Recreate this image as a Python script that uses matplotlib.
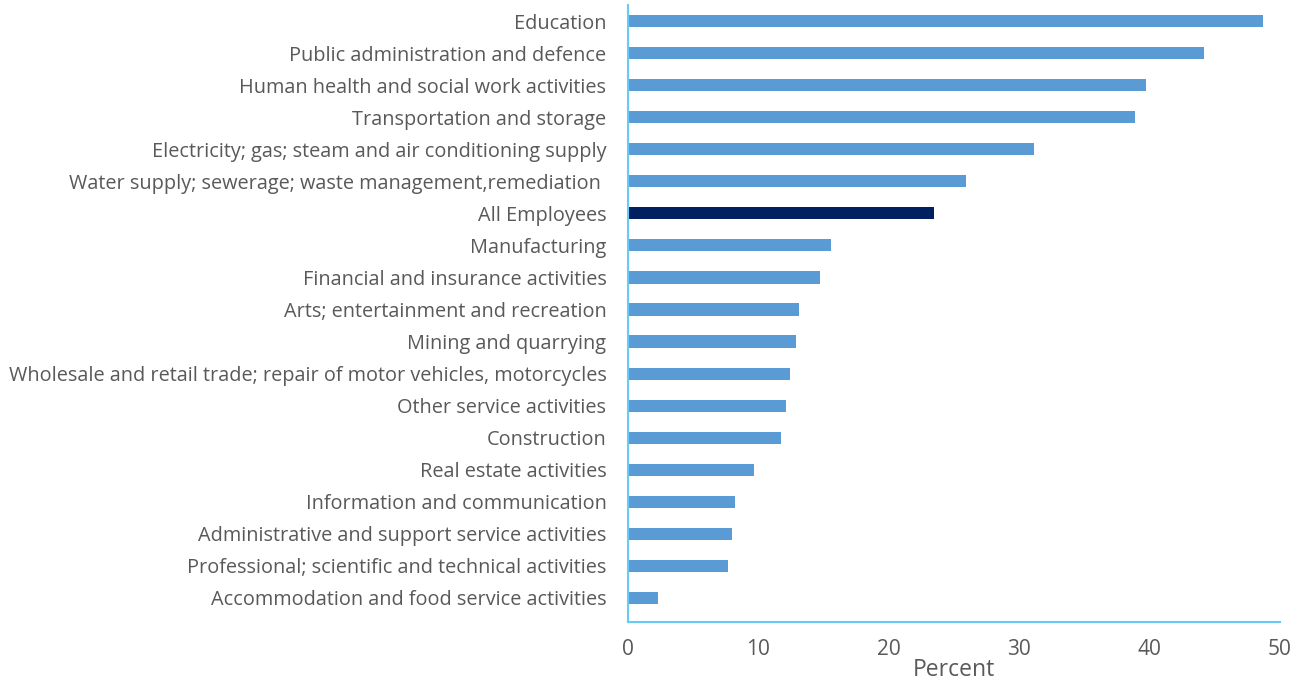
import numpy as np
import matplotlib.pyplot as plt

categories = [
    'Education',
    'Public administration and defence',
    'Human health and social work activities',
    'Transportation and storage',
    'Electricity; gas; steam and air conditioning supply',
    'Water supply; sewerage; waste management,remediation ',
    'All Employees',
    'Manufacturing',
    'Financial and insurance activities',
    'Arts; entertainment and recreation',
    'Mining and quarrying',
    'Wholesale and retail trade; repair of motor vehicles, motorcycles',
    'Other service activities',
    'Construction',
    'Real estate activities',
    'Information and communication',
    'Administrative and support service activities',
    'Professional; scientific and technical activities',
    'Accommodation and food service activities',
]
percent = [48.7, 44.2, 39.7, 38.9, 31.1, 25.9, 23.5, 15.6, 14.7, 13.1,
           12.9, 12.4, 12.1, 11.7, 9.7, 8.2, 8.0, 7.7, 2.3]
highlight = 'All Employees'

plt.rcParams['font.family'] = ['Open Sans', 'DejaVu Sans']

fig = plt.figure(figsize=(13.04, 6.82), dpi=100)
ax = fig.add_axes([628 / 1304, 1 - 622 / 682, 652 / 1304, 617 / 682])

y = np.arange(len(categories))
colors = ['#002060' if c == highlight else '#5B9BD5' for c in categories]
ax.barh(y, percent, height=0.38, color=colors)

ax.set_ylim(len(categories) - 0.25, -0.5)
ax.set_xlim(0, 50)
ax.set_yticks(y)
ax.set_yticklabels(categories, fontsize=14.35, color='#595959')
ax.set_xticks(np.arange(0, 51, 10))
ax.tick_params(axis='x', length=0, pad=12, labelsize=15, labelcolor='#595959')
ax.tick_params(axis='y', length=0, pad=15.5)
ax.set_xlabel('Percent', fontsize=16.5, color='#595959', labelpad=-1)

for s in ['top', 'right']:
    ax.spines[s].set_visible(False)
for s in ['left', 'bottom']:
    ax.spines[s].set_color('#66CCF5')
    ax.spines[s].set_linewidth(1.5)

fig.savefig('out.png', dpi=100)
